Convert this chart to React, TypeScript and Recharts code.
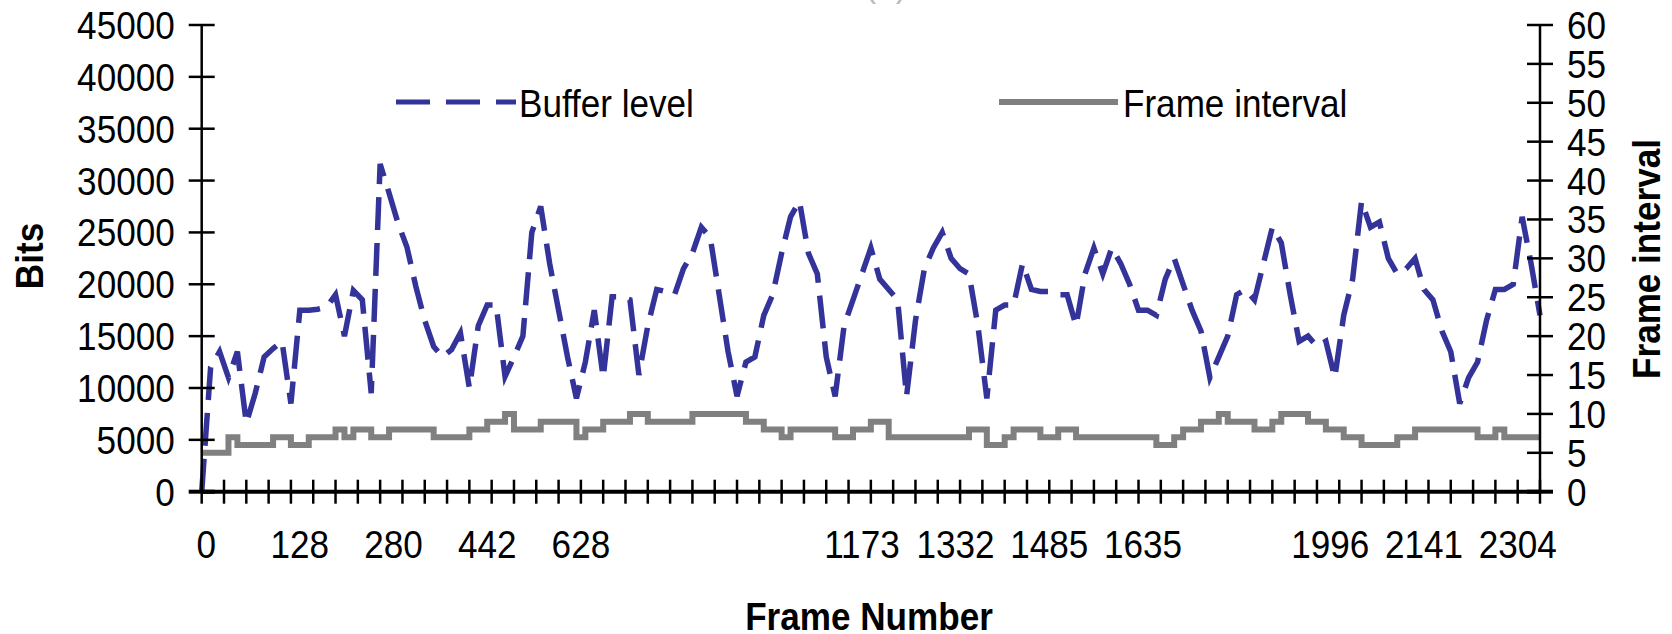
import { Legend, Line, LineChart, XAxis, YAxis } from "recharts";

// one sample every 2 categories along the category axis (0..300)
const CAT_STEP = 2;

const bufferLevel = [
  0, 12000, 13500, 11000, 13500, 6600, 9500, 13000, 13800, 14500,
  8500, 17500, 17500, 17600, 17800, 19000, 15000, 19400, 18500, 9500,
  31600, 28800, 25900, 23600, 19800, 16500, 14000, 13000, 13700, 15300,
  10000, 16000, 18000, 18000, 11100, 13000, 15000, 25000, 27500, 22000,
  17500, 13000, 9000, 12500, 17500, 11000, 18800, 18800, 18500, 11250,
  16000, 19500, 19300, 19000, 21500, 23000, 25500, 24500, 19000, 13500,
  9200, 12500, 13000, 17000, 19000, 23000, 26500, 28000, 23000, 21000,
  13000, 9200, 16000, 18500, 21000, 23500, 20500, 19500, 18500, 9200,
  16500, 21500, 23500, 25000, 22500, 21500, 21000, 16000, 9000, 17500,
  18000, 18000, 22000, 19500, 19300, 19300, 19000, 19000, 16000, 21000,
  23500, 21000, 23500, 22000, 20000, 17500, 17500, 17000, 20500, 22500,
  20000, 17500, 15500, 11000, 13000, 15000, 19000, 19500, 18500, 22000,
  25500, 24000, 19000, 14500, 15000, 14000, 14500, 11000, 17000, 20500,
  28000, 25500, 26000, 22500, 21000, 21500, 22500, 19500, 18500, 15500,
  13500, 8500, 11000, 12500, 16500, 19500, 19500, 20000, 26500, 22000,
  17000,
];

const frameInterval = [
  5, 5, 5, 7, 6, 6, 6, 6, 7, 7,
  6, 6, 7, 7, 7, 8, 7, 8, 8, 7,
  7, 8, 8, 8, 8, 8, 7, 7, 7, 7,
  8, 8, 9, 9, 10, 8, 8, 8, 9, 9,
  9, 9, 7, 8, 8, 9, 9, 9, 10, 10,
  9, 9, 9, 9, 9, 10, 10, 10, 10, 10,
  10, 9, 9, 8, 8, 7, 8, 8, 8, 8,
  8, 7, 7, 8, 8, 9, 9, 7, 7, 7,
  7, 7, 7, 7, 7, 7, 8, 8, 6, 6,
  7, 8, 8, 8, 7, 7, 8, 8, 7, 7,
  7, 7, 7, 7, 7, 7, 7, 6, 6, 7,
  8, 8, 9, 9, 10, 9, 9, 9, 8, 8,
  9, 10, 10, 10, 9, 9, 8, 8, 7, 7,
  6, 6, 6, 6, 7, 7, 8, 8, 8, 8,
  8, 8, 8, 7, 7, 8, 7, 7, 7, 7,
  7,
];

const frameLabels = ["0", "128", "280", "442", "628", "1173", "1332", "1485", "1635", "1996", "2141", "2304"];
const frameLabelCats = [1, 22, 43, 64, 85, 148, 169, 190, 211, 253, 274, 295];
const minorTickCats = Array.from({ length: 61 }, (_, i) => i * 5);

const bitsTicks = [0, 5000, 10000, 15000, 20000, 25000, 30000, 35000, 40000, 45000];
const intervalTicks = [0, 5, 10, 15, 20, 25, 30, 35, 40, 45, 50, 55, 60];

const data = bufferLevel.map((b, i) => ({
  cat: i * CAT_STEP,
  buffer: b,
  interval: frameInterval[i],
}));

const xTicks = Array.from(new Set([...minorTickCats, ...frameLabelCats])).sort((a, b) => a - b);

const FONT = "'Liberation Sans', Arial, sans-serif";
const BLUE = "#333399";
const GRAY = "#808080";
const DASH = "33 13";

function SText({ x, y, rotate = 0, anchor = "start", bold = false, fill = "#000", children }: any) {
  return (
    <text
      transform={`translate(${x},${y}) rotate(${rotate}) scale(0.9,1)`}
      textAnchor={anchor}
      fontFamily={FONT}
      fontSize={39}
      fontWeight={bold ? "bold" : "normal"}
      fill={fill}
    >
      {children}
    </text>
  );
}

function FrameTick({ x, y, payload }: any) {
  const v = payload.value;
  const idx = frameLabelCats.indexOf(v);
  return (
    <g>
      {v % 5 === 0 && <line x1={x} x2={x} y1={y - 12} y2={y + 12} stroke="#000" strokeWidth={2.5} />}
      {idx >= 0 && (
        <SText x={x} y={y + 66.5} anchor="middle">
          {frameLabels[idx]}
        </SText>
      )}
    </g>
  );
}

function BitsTick({ x, y, payload }: any) {
  return (
    <g>
      <line x1={x - 13} x2={x + 13} y1={y} y2={y} stroke="#000" strokeWidth={payload.value === 0 ? 4 : 2.5} />
      <SText x={x - 27} y={y + 14} anchor="end">
        {payload.value}
      </SText>
    </g>
  );
}

function IntervalTick({ x, y, payload }: any) {
  return (
    <g>
      <line x1={x - 13} x2={x + 13} y1={y} y2={y} stroke="#000" strokeWidth={payload.value === 0 ? 4 : 2.5} />
      <SText x={x + 27} y={y + 14}>
        {payload.value}
      </SText>
    </g>
  );
}

const legendSpots = [
  { x1: 396, x2: 516, tx: 519 },
  { x1: 999, x2: 1118, tx: 1123 },
];

function ChartLegend({ payload }: any) {
  return (
    <svg width={1672} height={130}>
      {(payload || []).map((entry: any, i: number) => {
        const s = legendSpots[i];
        if (!s) return null;
        return (
          <g key={entry.value}>
            <line
              x1={s.x1}
              x2={s.x2}
              y1={102}
              y2={102}
              stroke={entry.color}
              strokeWidth={i === 0 ? 5 : 6}
              strokeDasharray={i === 0 ? "34 16" : undefined}
            />
            <SText x={s.tx} y={116.5}>
              {entry.value}
            </SText>
          </g>
        );
      })}
    </svg>
  );
}

export default function App() {
  return (
    <div style={{ position: "absolute", left: 0, top: 0, width: 1672, height: 634, background: "#fff" }}>
      <LineChart width={1672} height={634} data={data} margin={{ top: 25, right: 32, bottom: 82.3, left: 101.7 }}>
        <XAxis
          dataKey="cat"
          type="number"
          domain={[0, 300]}
          ticks={xTicks}
          interval={0}
          tick={<FrameTick />}
          tickLine={false}
          tickSize={0}
          tickMargin={0}
          axisLine={{ stroke: "#000", strokeWidth: 4 }}
          height={60}
          label={{
            content: () => (
              <SText x={869} y={630} anchor="middle" bold>
                Frame Number
              </SText>
            ),
          }}
        />
        <YAxis
          yAxisId="bits"
          domain={[0, 45000]}
          ticks={bitsTicks}
          interval={0}
          width={100}
          tick={<BitsTick />}
          tickLine={false}
          tickSize={0}
          tickMargin={0}
          axisLine={{ stroke: "#000", strokeWidth: 2.5 }}
          label={{
            content: () => (
              <SText x={42.5} y={256} rotate={-90} anchor="middle" bold>
                Bits
              </SText>
            ),
          }}
        />
        <YAxis
          yAxisId="interval"
          orientation="right"
          domain={[0, 60]}
          ticks={intervalTicks}
          interval={0}
          width={100}
          tick={<IntervalTick />}
          tickLine={false}
          tickSize={0}
          tickMargin={0}
          axisLine={{ stroke: "#000", strokeWidth: 2.5 }}
          label={{
            content: () => (
              <SText x={1660} y={259} rotate={-90} anchor="middle" bold>
                Frame interval
              </SText>
            ),
          }}
        />
        <Line
          yAxisId="bits"
          dataKey="buffer"
          name="Buffer level"
          type="linear"
          stroke={BLUE}
          strokeWidth={5.5}
          strokeDasharray={DASH}
          dot={false}
          isAnimationActive={false}
        />
        <Line
          yAxisId="interval"
          dataKey="interval"
          name="Frame interval"
          type="stepAfter"
          stroke={GRAY}
          strokeWidth={6}
          dot={false}
          isAnimationActive={false}
        />
        <Legend
          layout="horizontal"
          verticalAlign="middle"
          align="center"
          wrapperStyle={{ left: 0, top: 0, width: 1672, height: 130 }}
          content={<ChartLegend />}
        />
      </LineChart>
      <svg width={1672} height={20} style={{ position: "absolute", left: 0, top: 0 }}>
        <SText x={886} y={-4.4} anchor="middle" fill="#bbb">
          (a)
        </SText>
      </svg>
    </div>
  );
}
